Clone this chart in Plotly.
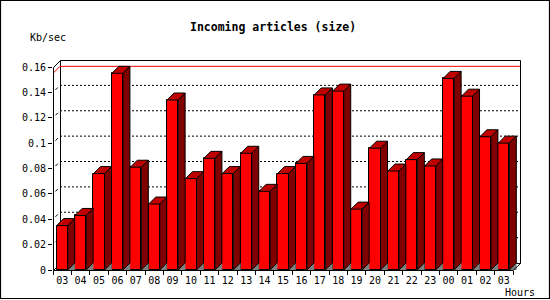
import plotly.graph_objects as go

# ---------------- data ----------------
hours = ["03", "04", "05", "06", "07", "08", "09", "10", "11", "12", "13", "14",
         "15", "16", "17", "18", "19", "20", "21", "22", "23", "00", "01", "02", "03"]
values = [0.035, 0.043, 0.076, 0.155, 0.081, 0.052, 0.134, 0.072, 0.088, 0.076,
          0.092, 0.062, 0.076, 0.084, 0.138, 0.141, 0.048, 0.096, 0.078, 0.087,
          0.082, 0.151, 0.137, 0.105, 0.100]
y_ticks = [0, 0.02, 0.04, 0.06, 0.08, 0.1, 0.12, 0.14, 0.16]
y_ticktext = ["0", "0.02", "0.04", "0.06", "0.08", "0.1", "0.12", "0.14", "0.16"]
title = "Incoming articles (size)"
y_unit = "Kb/sec"
x_unit = "Hours"

# ---------------- geometry ----------------
W_IMG, H_IMG = 550, 300
PL, PR, PT, PB = 53, 520, 60, 270          # plot area pixels
PW, PH = PR - PL, PB - PT
DEPTH = 7                                  # 3-D depth in pixels
n = len(values)
ymax = y_ticks[-1]
cw = (PW - DEPTH) / n                      # px per category
dx = DEPTH / cw                            # depth in x data units
ppu = (PH - DEPTH) / ymax                  # px per y unit
dy = DEPTH / ppu                           # depth in y data units
bw = 0.6                                   # bar width (category units)

xs = list(range(n))

def px(xp):
    return (xp - PL) / PW

def py(yp):
    return (PB - yp) / PH

fig = go.Figure()

# front faces
fig.add_trace(go.Bar(x=xs, y=values, width=bw, marker=dict(color="#ff0000",
                     line=dict(color="black", width=1)), hoverinfo="skip"))

# floor shadow triangles, side faces, top faces (built from data)
tri_x, tri_y, side_x, side_y, top_x, top_y = [], [], [], [], [], []
for x, v in zip(xs, values):
    xl, xr = x - bw / 2, x + bw / 2
    tri_x += [xr, xr + dx, xr + dx, xr, None]
    tri_y += [0, dy, 0, 0, None]
    side_x += [xr, xr, xr + dx, xr + dx, xr, None]
    side_y += [0, v, v + dy, dy, 0, None]
    top_x += [xl, xl + dx, xr + dx, xr, xl, None]
    top_y += [v, v + dy, v + dy, v, v, None]

fig.add_trace(go.Scatter(x=tri_x, y=tri_y, mode="lines", fill="toself",
                         fillcolor="#808080", line=dict(color="#808080", width=0.5),
                         hoverinfo="skip"))
fig.add_trace(go.Scatter(x=side_x, y=side_y, mode="lines", fill="toself",
                         fillcolor="#800000", line=dict(color="black", width=1),
                         hoverinfo="skip"))
fig.add_trace(go.Scatter(x=top_x, y=top_y, mode="lines", fill="toself",
                         fillcolor="#c00000", line=dict(color="black", width=1),
                         hoverinfo="skip"))

shapes = []
x_back0, x_back1 = -0.5 + dx, n - 0.5 + dx
# dotted gridlines on the back wall
for v in y_ticks[1:-1]:
    shapes.append(dict(type="line", xref="x", yref="y", x0=x_back0, x1=x_back1,
                       y0=v + dy, y1=v + dy, layer="below",
                       line=dict(color="black", width=1, dash="2px,2px")))
    shapes.append(dict(type="line", xref="x", yref="y", x0=-0.5 + 0.35 * dx,
                       x1=-0.5 + 0.7 * dx, y0=v + 0.35 * dy, y1=v + 0.7 * dy,
                       layer="below", line=dict(color="black", width=1)))
# red max line
vmax = max(values)
shapes.append(dict(type="path", xref="x", yref="y", layer="below",
                   path=f"M {-0.5},{vmax} L {x_back0},{vmax + dy} L {x_back1},{vmax + dy}",
                   line=dict(color="red", width=1)))

# frame (axes box) in paper coordinates
fx0, fx1 = PL + 0.5, PR - DEPTH + 0.5           # front left / right
bx0, bx1 = PL + DEPTH + 0.5, PR + 0.5           # back left / right
fyb, fyt = PB + 0.5, PB - ymax * ppu + 0.5      # front bottom / top
byb, byt = PB - DEPTH + 0.5, PT + 0.5           # back bottom / top

def seg(x0, y0, x1, y1, layer="above"):
    shapes.append(dict(type="line", xref="paper", yref="paper", layer=layer,
                       x0=px(x0), y0=py(y0), x1=px(x1), y1=py(y1),
                       line=dict(color="black", width=1)))

# back wall (behind bars)
seg(bx0, byt, bx1, byt, "below")
seg(bx0, byb, bx0, byt, "below")
seg(bx0, byb, bx1, byb, "below")
seg(bx1, byb, bx1, byt, "above")
# front edges
seg(fx0, fyb, fx0, fyt)
seg(fx0, fyt, bx0, byt)
seg(fx0, fyb, fx1 - 0.5, fyb)
seg(fx1 - 0.5, fyb, bx1, byb)
seg(fx0, fyb, bx0, byb, "below")

# image border
shapes.append(dict(type="rect", xref="paper", yref="paper",
                   x0=px(0.5), x1=px(549.5), y0=py(0.5), y1=py(298.5),
                   line=dict(color="black", width=1.2), layer="above"))

mono = "DejaVu Sans Mono"
annotations = [
    dict(text=f"<b>{title}</b>", xref="paper", yref="paper", x=px(273), y=py(27),
         showarrow=False, xanchor="center", yanchor="middle",
         font=dict(family=mono, size=11.5, color="black")),
    dict(text=y_unit, xref="paper", yref="paper", x=px(47.5), y=py(37.5),
         showarrow=False, xanchor="center", yanchor="middle",
         font=dict(family=mono, size=10, color="black")),
    dict(text=x_unit, xref="paper", yref="paper", x=px(520), y=py(292.5),
         showarrow=False, xanchor="center", yanchor="middle",
         font=dict(family=mono, size=10, color="black")),
]

fig.update_layout(
    width=W_IMG, height=H_IMG,
    margin=dict(l=PL, r=W_IMG - PR, t=PT, b=H_IMG - PB, pad=0),
    paper_bgcolor="white", plot_bgcolor="white",
    showlegend=False, bargap=0,
    shapes=shapes, annotations=annotations,
    xaxis=dict(range=[-0.5, n - 0.5 + dx], tickmode="array", tickvals=xs,
               ticktext=hours, ticks="outside", ticklen=1,
               tickcolor="rgba(0,0,0,0)", showgrid=False, zeroline=False,
               showline=False, fixedrange=True,
               tickfont=dict(family=mono, size=10, color="black"),
               minor=dict(tickmode="array",
                          tickvals=[i - 0.5 for i in range(n + 1)],
                          ticks="outside", ticklen=4, tickcolor="black",
                          showgrid=False)),
    yaxis=dict(range=[0, ymax + dy], tickmode="array", tickvals=y_ticks,
               ticktext=y_ticktext, ticks="outside", ticklen=4, tickcolor="black",
               showgrid=False, zeroline=False, showline=False, fixedrange=True,
               tickfont=dict(family=mono, size=10, color="black")),
)

fig.write_html("out.html")
